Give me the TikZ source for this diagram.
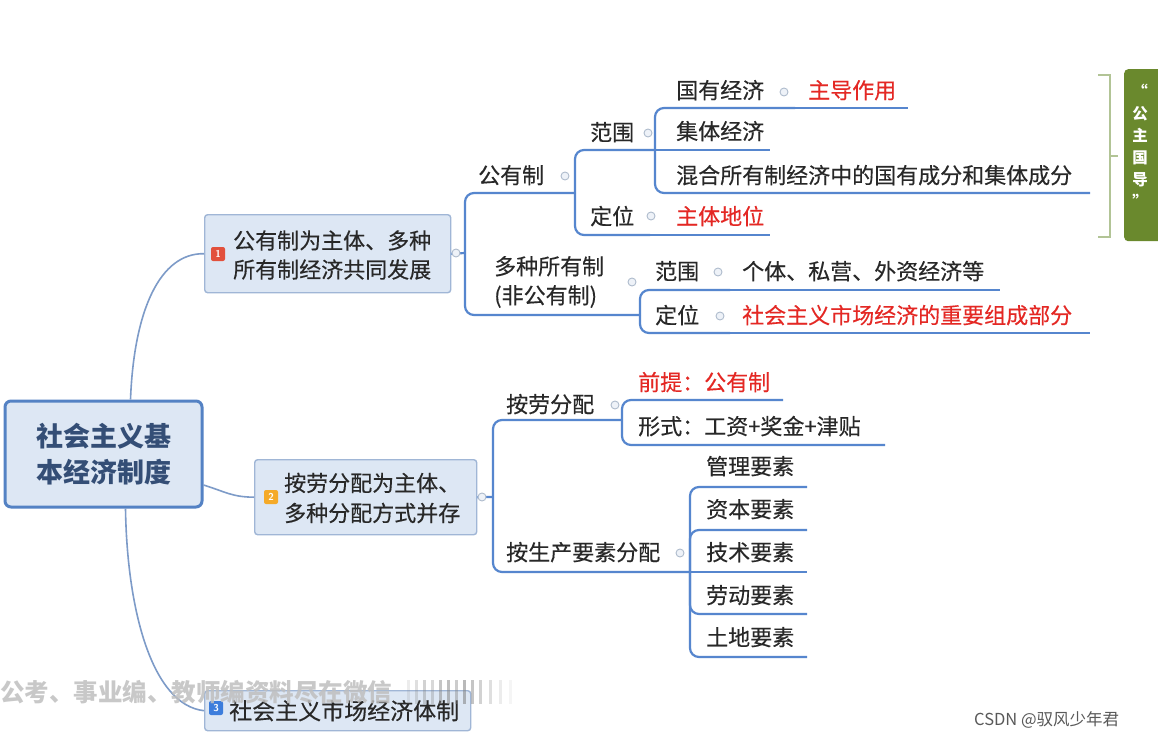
\documentclass[tikz,border=0pt]{standalone}
\usepackage{fontspec}
\newfontfamily\cjk[FakeBold=0.3]{Noto Sans CJK SC}
\newfontfamily\cjkb{Noto Sans CJK SC}
\usetikzlibrary{calc}
\definecolor{boxfill}{RGB}{221,231,244}
\definecolor{boxdraw}{RGB}{160,182,214}
\definecolor{rootdraw}{RGB}{84,130,196}
\definecolor{roottext}{RGB}{52,78,118}
\definecolor{ulblue}{RGB}{86,134,206}
\definecolor{connblue}{RGB}{125,155,200}
\definecolor{textdark}{RGB}{40,40,40}
\definecolor{redtxt}{RGB}{228,40,36}
\definecolor{olivebox}{RGB}{106,137,45}
\definecolor{gbr}{RGB}{178,196,150}
\definecolor{badgered}{RGB}{226,80,60}
\definecolor{badgeorange}{RGB}{245,170,40}
\definecolor{badgeblue}{RGB}{60,125,220}
\definecolor{dotdraw}{RGB}{175,188,205}
\definecolor{dotfill}{RGB}{238,242,248}
\begin{document}
\begin{tikzpicture}[x=1pt,y=-1pt,
 box/.style={draw=boxdraw, fill=boxfill, line width=1.4pt, rounded corners=3pt, inner sep=0, anchor=north west},
 rootbox/.style={draw=rootdraw, fill=boxfill, line width=3pt, rounded corners=6pt, inner sep=0, align=center, text=roottext, font=\cjkb\bfseries\fontsize{27}{36}\selectfont},
 t/.style={anchor=west, inner sep=0, text=textdark, font=\cjk\fontsize{22}{29}\selectfont, text height=17pt, text depth=2pt},
 tr/.style={t, text=redtxt},
 ml/.style={anchor=west, inner sep=0, text=textdark, font=\cjk\fontsize{22}{29}\selectfont, align=left},
 ul/.style={draw=ulblue, line width=2.2pt, rounded corners=9pt},
 conn/.style={draw=connblue, line width=1.6pt},
 dot/.style={circle, draw=dotdraw, fill=dotfill, line width=0.9pt, minimum size=8pt, inner sep=0},
 badge/.style={rounded corners=2pt, minimum size=14pt, inner sep=0, text=white, font=\sffamily\bfseries\fontsize{10}{10}\selectfont},
 gline/.style={draw=gbr, line width=2pt},
 blur/.style={draw=gray, line width=3pt},
]
\useasboundingbox (0,0) rectangle (1158,741);
\fill[white] (0,0) rectangle (1158,741);

% main boxes
\node[rootbox, minimum width=197pt, minimum height=106pt] (root) at (103.5,454) {社会主义基\\本经济制度};
\node[box, minimum width=246pt, minimum height=78pt] (n1) at (204,214) {};
\node[box, minimum width=222pt, minimum height=75pt] (n2) at (254,459) {};
\node[box, minimum width=266pt, minimum height=40pt] (n3) at (204,690) {};
\node[badge, fill=badgered] (b1) at (218,254) {1};
\node[badge, fill=badgeorange] (b2) at (271,497) {2};
\node[badge, fill=badgeblue] (b3) at (216,708) {3};
\node[ml] (n1t) at (233,255) {公有制为主体、多种\\所有制经济共同发展};
\node[ml, font=\cjk\fontsize{22}{30}\selectfont] (n2t) at (284,498) {按劳分配为主体、\\多种分配方式并存};
\node[t, font=\cjk\fontsize{23}{29}\selectfont] (n3t) at (229,712) {社会主义市场经济体制};

% root connectors
\draw[conn] ([xshift=27pt]root.north) .. controls (134,310) and (160,253) .. (n1.west);
\draw[conn] ([yshift=-31pt]root.east) .. controls (226,492) and (232,497) .. (n2.west);
\draw[conn] ([xshift=22pt]root.south) .. controls (127,610) and (152,705) .. (n3.west);

% junction / underline end coordinates
\coordinate (j1) at (465,253);
\coordinate (gyz-e) at (575,193);
\coordinate (dz-e) at (640,315);
\coordinate (fw1-e) at (655,150);
\coordinate (dw1-e) at (650,235);
\coordinate (ztdw-e) at (770,235);
\coordinate (gyjj-e) at (795,108);
\coordinate (zdzy-e) at (908,108);
\coordinate (jtjj-e) at (770,150);
\coordinate (hh-e) at (1090,193);
\coordinate (fw2-e) at (730,290);
\coordinate (gt-e) at (1000,290);
\coordinate (dw2-e) at (730,333);
\coordinate (sh-e) at (1090,333);
\coordinate (j2) at (493,497);
\coordinate (ald-e) at (622,420);
\coordinate (asc-e) at (690,572);
\coordinate (qt-e) at (783,400);
\coordinate (xs-e) at (885,445);
\coordinate (ys1-e) at (807,487);
\coordinate (ys2-e) at (807,530);
\coordinate (ys3-e) at (807,572);
\coordinate (ys4-e) at (807,614);
\coordinate (ys5-e) at (807,657);

% underlines and brackets
\draw[ul] (n1.east) -- (j1);
\draw[ul] (j1) |- (gyz-e);
\draw[ul] (j1) |- (dz-e);
\draw[ul] (gyz-e) |- (fw1-e);
\draw[ul] (gyz-e) |- (dw1-e);
\draw[ul] (dw1-e) -- (ztdw-e);
\draw[ul] (fw1-e) |- (gyjj-e);
\draw[ul] (fw1-e) -- (jtjj-e);
\draw[ul] (fw1-e) |- (hh-e);
\draw[ul] (gyjj-e) -- (zdzy-e);
\draw[ul] (dz-e) |- (fw2-e);
\draw[ul] (dz-e) |- (dw2-e);
\draw[ul] (fw2-e) -- (gt-e);
\draw[ul] (dw2-e) -- (sh-e);
\draw[ul] (n2.east) -- (j2);
\draw[ul] (j2) |- (ald-e);
\draw[ul] (j2) |- (asc-e);
\draw[ul] (ald-e) |- (qt-e);
\draw[ul] (ald-e) |- (xs-e);
\draw[ul] (asc-e) |- (ys1-e);
\draw[ul] (asc-e) |- (ys2-e);
\draw[ul] (asc-e) -- (ys3-e);
\draw[ul] (asc-e) |- (ys4-e);
\draw[ul] (asc-e) |- (ys5-e);

% topic texts
\node[t] (gyz) at (478,176) {公有制};
\node[ml] (dz) at (494,282) {多种所有制\\(非公有制)};
\node[t] (fw1) at (590,133) {范围};
\node[t] (dw1) at (590,217) {定位};
\node[tr] (ztdw) at (676,217) {主体地位};
\node[t] (gyjj) at (676,91) {国有经济};
\node[tr] (zdzy) at (808,91) {主导作用};
\node[t] (jtjj) at (676,132) {集体经济};
\node[t] (hh) at (676,176) {混合所有制经济中的国有成分和集体成分};
\node[t] (fw2) at (655,272) {范围};
\node[t] (gt) at (742,272) {个体、私营、外资经济等};
\node[t] (dw2) at (655,316) {定位};
\node[tr] (sh) at (742,316) {社会主义市场经济的重要组成部分};
\node[t] (ald) at (506,405) {按劳分配};
\node[t] (asc) at (506,553) {按生产要素分配};
\node[tr] (qt) at (638,383) {前提：公有制};
\node[t] (xs) at (638,427) {形式：工资+奖金+津贴};
\node[t] (ys1) at (706,467) {管理要素};
\node[t] (ys2) at (706,510) {资本要素};
\node[t] (ys3) at (706,553) {技术要素};
\node[t] (ys4) at (706,596) {劳动要素};
\node[t] (ys5) at (706,638) {土地要素};

% collapse dots
\node[dot] (c1) at (456,253) {};
\node[dot] (cgyz) at (565,176) {};
\node[dot] (cfw1) at (648,133) {};
\node[dot] (cgyjj) at (784,92) {};
\node[dot] (cdw1) at (651,216) {};
\node[dot] (cdz) at (632,282) {};
\node[dot] (cfw2) at (718,272) {};
\node[dot] (cdw2) at (720,316) {};
\node[dot] (c2) at (482,497) {};
\node[dot] (cald) at (615,405) {};
\node[dot] (casc) at (680,553) {};

% green summary bracket and box
\draw[gline] (1098,75) -- (1110,75) -- (1110,237) -- (1098,237);
\draw[gline] (1110,156) -- (1118,156);
\node[fill=olivebox, rounded corners=4pt, anchor=north west, minimum width=50pt, minimum height=172pt, inner sep=0] (gb) at (1124,69) {};
\node[text=white, font=\cjkb\bfseries\fontsize{15.5}{22}\selectfont, align=center, inner sep=0] (gbt) at (1140,146) {“\\公\\主\\国\\导\\”};

% watermark and credit
\foreach \bx/\bo in {408/0.15,416/0.25,424/0.35,432/0.3,440/0.45,448/0.5,456/0.4,464/0.55,472/0.45,480/0.35,490/0.25,500/0.15,510/0.08}
  \draw[blur, opacity=\bo] (\bx,680) -- (\bx,704);
\node[anchor=west, inner sep=0, text=gray!50, opacity=0.85, font=\cjkb\bfseries\fontsize{24.5}{26}\selectfont] (wm) at (0,692) {公考、事业编、教师编资料尽在微信};
\node[anchor=west, inner sep=0, text=black!65, font=\cjkb\fontsize{16.5}{18}\selectfont] (csdn) at (974,720) {CSDN @驭风少年君};
\end{tikzpicture}
\end{document}
